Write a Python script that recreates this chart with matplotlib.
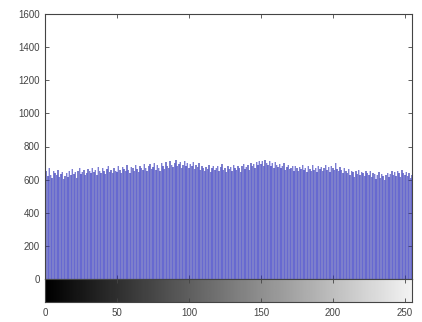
import numpy as np
import matplotlib
matplotlib.use("Agg")
import matplotlib.pyplot as plt

plt.rcParams['font.family'] = ['Liberation Sans', 'DejaVu Sans']

counts = [
    640, 655, 620, 668, 630, 612, 650, 642, 625, 660, 618, 635, 648, 605, 622, 640,
    615, 650, 628, 662, 635, 645, 610, 655, 670, 632, 648, 658, 625, 640, 665, 650,
    638, 672, 645, 660, 628, 675, 655, 642, 668, 650, 635, 662, 680, 648, 658, 640,
    670, 655, 645, 682, 660, 638, 675, 665, 650, 688, 660, 642, 678, 668, 655, 690,
    662, 648, 685, 672, 658, 695, 668, 650, 680, 692, 665, 675, 700, 660, 688, 672,
    655, 698, 680, 665, 705, 685, 670, 712, 690, 675, 700, 718, 682, 695, 708, 670,
    690, 715, 685, 700, 672, 695, 680, 705, 665, 688, 676, 698, 660, 684, 670, 655,
    678, 662, 690, 648, 672, 685, 658, 668, 680, 650, 675, 692, 660, 670, 645, 682,
    665, 678, 652, 690, 670, 660, 685, 672, 648, 680, 695, 665, 675, 688, 658, 700,
    680, 692, 670, 705, 688, 715, 695, 710, 682, 720, 700, 690, 712, 685, 698, 670,
    705, 688, 675, 695, 668, 682, 700, 660, 678, 690, 665, 672, 685, 655, 680, 668,
    650, 675, 662, 688, 658, 670, 645, 680, 665, 655, 690, 660, 672, 648, 682, 665,
    675, 652, 668, 690, 660, 678, 645, 685, 670, 658, 698, 665, 650, 675, 660, 642,
    668, 652, 640, 662, 630, 655, 645, 618, 650, 635, 660, 628, 648, 640, 622, 655,
    638, 625, 650, 615, 640, 632, 605, 628, 645, 612, 635, 620, 600, 630, 642, 618,
    635, 655, 625, 645, 620, 650, 638, 615, 660, 640, 628, 648, 620, 642, 612, 630,
]
bins = list(range(256))
yticks = [0, 200, 400, 600, 800, 1000, 1200, 1400, 1600]
xticks = [0, 50, 100, 150, 200, 250]

fig = plt.figure(figsize=(4.22, 3.22), dpi=100)
L, W = 45 / 422, 367 / 422
ax = fig.add_axes([L, 1 - 279 / 322, W, 265 / 322])
cax = fig.add_axes([L, 1 - 302 / 322, W, 23 / 322])

ax.bar(bins, counts, width=1.0, color='#9a9cc6', linewidth=0)
ax.vlines(bins, 0, counts, colors='#2626e0', linewidth=0.35)
ax.set_xlim(0, 255)
ax.set_ylim(0, 1600)
ax.set_yticks(yticks)
ax.set_xticks(xticks)
ax.tick_params(direction='in', length=3, width=0.6, top=True, right=True,
               labelbottom=False, labelsize=7, labelcolor='#444444', color='#444444')
for s in ax.spines.values():
    s.set_color('#444444')
    s.set_linewidth(0.8)

grad = np.linspace(0, 1, 256).reshape(1, -1)
cax.imshow(grad, cmap='gray', aspect='auto', extent=[0, 255, 0, 1], vmin=0, vmax=1.05)
cax.set_xlim(0, 255)
cax.set_ylim(0, 1)
cax.set_xticks(xticks)
cax.set_yticks([])
cax.tick_params(direction='in', length=3, width=0.6, top=True,
                labelsize=7, labelcolor='#444444', color='#444444', pad=4)
for s in cax.spines.values():
    s.set_color('#444444')
    s.set_linewidth(0.8)

fig.savefig('out.png', dpi=100)
